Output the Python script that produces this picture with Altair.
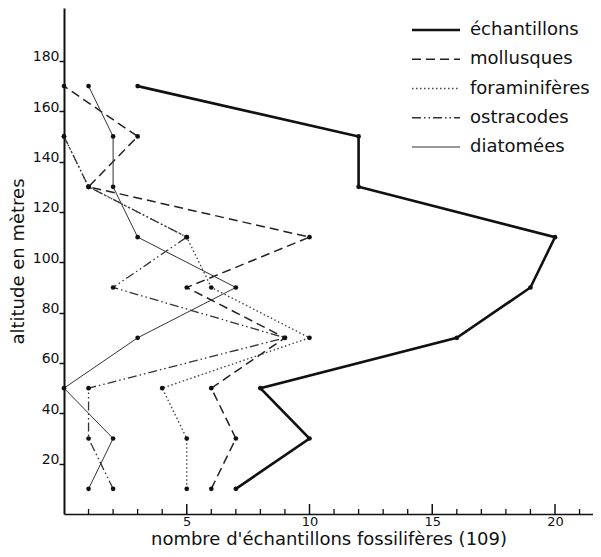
import altair as alt
import pandas as pd

# ---- data ----
altitudes = [170, 150, 130, 110, 90, 70, 50, 30, 10]
echantillons = [3, 12, 12, 20, 19, 16, 8, 10, 7]
mollusques = [0, 3, 1, 10, 5, 9, 6, 7, 6]
foraminiferes = [None, 0, 1, 5, 6, 10, 4, 5, 5]
ostracodes = [None, 0, 1, 5, 2, 9, 1, 1, 2]
diatomees = [1, 2, 2, 3, 7, 3, 0, 2, 1]
series_names = ["échantillons", "mollusques", "foraminifères", "ostracodes", "diatomées"]
y_ticks = [20, 40, 60, 80, 100, 120, 140, 160, 180]
x_labels = [5, 10, 15, 20]
x_minor = [1, 2, 3, 4, 6, 7, 8, 9, 11, 12, 13, 14, 16, 17, 18, 19, 21]

values = [echantillons, mollusques, foraminiferes, ostracodes, diatomees]
rows = []
for name, vals in zip(series_names, values):
    for a, v in zip(altitudes, vals):
        if v is not None:
            rows.append({"series": name, "altitude": a, "count": v})
df = pd.DataFrame(rows)
legend_df = pd.DataFrame({"series": series_names})
minor_df = pd.DataFrame({"t": x_minor})
major_df = pd.DataFrame({"t": x_labels})

# ---- styles ----
FONT = "DejaVu Sans"
W, H = 529, 506
XMAX = W / 24.55
YMAX = H / 2.517

styles = {
    "échantillons": dict(strokeWidth=2.6, color="#111"),
    "mollusques": dict(strokeWidth=1.5, strokeDash=[9, 5], color="#222"),
    "foraminifères": dict(strokeWidth=1.4, strokeDash=[1.5, 2.5], color="#444"),
    "ostracodes": dict(strokeWidth=1.3, strokeDash=[9, 3, 1.5, 3, 1.5, 3], color="#333"),
    "diatomées": dict(strokeWidth=1.0, color="#333"),
}

x_axis = alt.Axis(
    values=x_labels, title="nombre d'échantillons fossilifères (109)", grid=False,
    tickSize=0, domainWidth=1.5, domainColor="#111", labelPadding=1,
    labelFont=FONT, labelFontSize=13, labelColor="#111", labelFlush=False,
    titleFont=FONT, titleFontSize=18, titleFontWeight="normal", titleColor="#111",
    titleY=25, titleBaseline="middle",
)
y_axis = alt.Axis(
    values=y_ticks, title="altitude en mètres", grid=False,
    tickSize=5, tickWidth=1.5, tickColor="#111", domainWidth=2, domainColor="#111",
    labelBaseline="alphabetic", labelPadding=0, labelFont=FONT, labelFontSize=14,
    labelColor="#111", labelOverlap=False, labelFlush=False,
    titleFont=FONT, titleFontSize=18, titleFontWeight="normal", titleColor="#111",
    titleX=-46, titleY=H / 2, titleAngle=270, titleAlign="center", titleBaseline="middle",
)
xscale = alt.Scale(domain=[0, XMAX], nice=False, zero=False)
yscale = alt.Scale(domain=[0, YMAX], nice=False, zero=False)


def X(field):
    return alt.X(f"{field}:Q", scale=xscale, axis=x_axis)


Y = alt.Y("altitude:Q", scale=yscale, axis=y_axis)

base = alt.Chart(df)
data_layers = []
for name in series_names:
    st = styles[name]
    line = base.transform_filter(alt.datum.series == name).mark_line(**st).encode(
        x=X("count"), y=Y, order=alt.Order("altitude:Q")
    )
    pts = base.transform_filter(alt.datum.series == name).mark_point(
        filled=True, size=22, color="#111", opacity=1
    ).encode(x=X("count"), y=Y)
    data_layers += [line, pts]

minor_ticks = alt.Chart(minor_df).mark_rule(color="#111", strokeWidth=1.3).encode(
    x=X("t"), y=alt.value(H), y2=alt.value(H - 5)
)
major_ticks = alt.Chart(major_df).mark_rule(color="#111", strokeWidth=1.5).encode(
    x=X("t"), y=alt.value(H), y2=alt.value(H - 10)
)
data_layer = alt.layer(*data_layers, minor_ticks, major_ticks)

Yleg = alt.Y(
    "series:N",
    scale=alt.Scale(type="point", domain=series_names, range=[22, 139], padding=0),
    axis=None,
)
leg_layers = []
for name in series_names:
    leg_layers.append(
        alt.Chart(legend_df).transform_filter(alt.datum.series == name)
        .mark_rule(**styles[name])
        .encode(x=alt.value(348), x2=alt.value(396), y=Yleg)
    )
leg_text = alt.Chart(legend_df).mark_text(
    align="left", baseline="middle", font=FONT, fontSize=18, color="#111"
).encode(x=alt.value(406), y=Yleg, text="series:N")
legend_layer = alt.layer(*leg_layers, leg_text)

chart = (
    alt.layer(data_layer, legend_layer)
    .resolve_scale(y="independent")
    .properties(
        width=W, height=H,
        padding={"left": 56, "top": 0, "right": 0, "bottom": 35},
        autosize=alt.AutoSizeParams(type="none"),
        background="white",
    )
    .configure_view(stroke=None)
)

chart.save("out.html", embed_options={"renderer": "svg", "actions": False})
